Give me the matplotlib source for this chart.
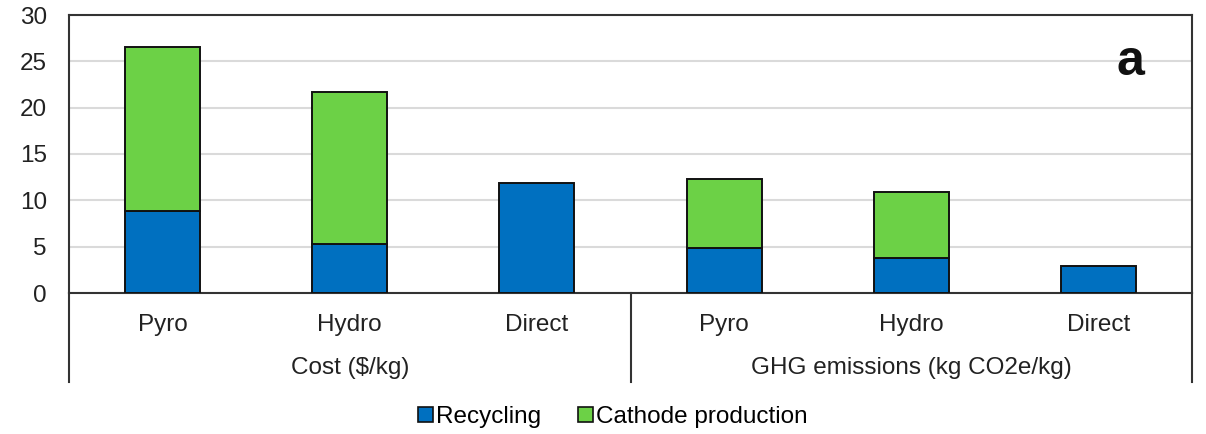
import matplotlib
matplotlib.use("Agg")
import matplotlib.pyplot as plt
from matplotlib.patches import Patch
import matplotlib.transforms as mtransforms

plt.rcParams['font.family'] = ['Liberation Sans', 'DejaVu Sans']

methods = ["Pyro", "Hydro", "Direct", "Pyro", "Hydro", "Direct"]
groups = ["Cost ($/kg)", "GHG emissions (kg CO2e/kg)"]
recycling = [8.9, 5.3, 11.9, 4.85, 3.8, 2.9]
cathode = [17.6, 16.4, 0.0, 7.45, 7.1, 0.0]
series_names = ["Recycling", "Cathode production"]
yticks = [0, 5, 10, 15, 20, 25, 30]

blue = "#0070C0"
green = "#6CD146"
fs = 17.5

fig = plt.figure(figsize=(12.06, 4.34), dpi=100)
ax = fig.add_axes([69 / 1206, 1 - 293 / 434, (1192 - 69) / 1206, (293 - 15) / 434])

x = list(range(len(methods)))
ax.bar(x, recycling, width=0.4, color=blue, edgecolor="#111111", linewidth=1.4, zorder=3)
ax.bar([xi for xi, c in zip(x, cathode) if c > 0],
       [c for c in cathode if c > 0], width=0.4,
       bottom=[r for r, c in zip(recycling, cathode) if c > 0],
       color=green, edgecolor="#111111", linewidth=1.4, zorder=3)

ax.set_xlim(-0.5, len(methods) - 0.5)
ax.set_ylim(0, 30)
ax.set_yticks(yticks)
ax.set_yticklabels([str(v) for v in yticks], fontsize=fs, color="#222222")
ax.tick_params(axis="y", length=0, pad=16)
ax.tick_params(axis="x", length=0, pad=15, labelsize=fs, labelcolor="#222222")
ax.set_xticks(x)
ax.set_xticklabels(methods)
ax.grid(axis="y", color="#DADADA", linewidth=1.5, zorder=0)
ax.set_axisbelow(True)
for side in ["top", "right", "left", "bottom"]:
    ax.spines[side].set_color("#333333")
    ax.spines[side].set_linewidth(1.5)

# group labels and separators beneath the axis
trans = mtransforms.blended_transform_factory(ax.transData, ax.transAxes)
sep_bottom = -(382 - 293) / (293 - 15)
for g, label in enumerate(groups):
    ax.text(g * 3 + 1, -(368 - 293) / (293 - 15), label, transform=trans,
            ha="center", va="center", fontsize=fs, color="#222222")
for xs in [-0.5, 2.5, 5.5]:
    ax.plot([xs, xs], [0, sep_bottom], transform=trans, color="#333333",
            linewidth=1.5, clip_on=False)

ax.text(0.945, 0.83, "a", transform=ax.transAxes, ha="center", va="center",
        fontsize=36, fontweight="bold", color="#111111")

handles = [Patch(facecolor=blue, edgecolor="#111111", linewidth=1.2),
           Patch(facecolor=green, edgecolor="#111111", linewidth=1.2)]
fig.legend(handles, series_names, loc="center", bbox_to_anchor=(613 / 1206, 1 - 417 / 434),
           ncol=2, frameon=False, fontsize=fs, handlelength=0.6, handleheight=0.6,
           handletextpad=0.15, columnspacing=1.5)

fig.savefig("out.png", dpi=100)
